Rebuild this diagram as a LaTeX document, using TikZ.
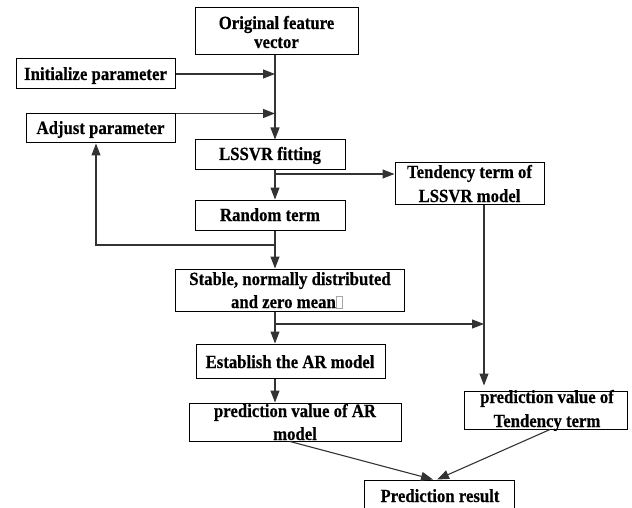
\documentclass[tikz,border=0pt]{standalone}
\usepackage{fontspec}
\setmainfont{Liberation Serif}[BoldFeatures={FakeStretch=0.9,FakeBold=0.5}]
\usetikzlibrary{arrows.meta}
\newcommand\missbox{{\color{gray!70}\fboxsep=0pt\fboxrule=0.6pt\fbox{\rule{0pt}{11pt}\hspace{6pt}}}}
\begin{document}
\begin{tikzpicture}[x=1pt,y=-1pt,
  box/.style={draw=black,line width=1pt,inner sep=0pt,minimum width=#1},
  txt/.style={anchor=base,inner sep=0pt,font=\fontsize{18.6}{20}\selectfont\bfseries},
  arr/.style={draw=black!80,line width=1.1pt,-{Triangle[length=12pt,width=9pt]}}]
\useasboundingbox (0,0) rectangle (632,508);
% boxes
\node[box=163pt,minimum height=47pt] (orig) at (276.5,31.5) {};
\node[box=159pt,minimum height=30pt] (init) at (95.5,74) {};
\node[box=149pt,minimum height=29pt] (adjust) at (100.5,128.5) {};
\node[box=150pt,minimum height=30pt] (lssvr) at (270,155) {};
\node[box=149pt,minimum height=41pt] (tend) at (469.5,183.5) {};
\node[box=150pt,minimum height=30pt] (random) at (270,215) {};
\node[box=229pt,minimum height=42pt] (stable) at (289.5,290) {};
\node[box=189pt,minimum height=34pt] (estab) at (290.5,361) {};
\node[box=212pt,minimum height=38pt] (predar) at (295,422) {};
\node[box=163pt,minimum height=38pt] (predt) at (545.5,410) {};
\node[box=150pt,minimum height=32pt] (result) at (439,496) {};
% texts
\node[txt] (orig-t1) at (276.5,29) {Original feature};
\node[txt] (orig-t2) at (276.5,48) {vector};
\node[txt] (init-t) at (95.5,80) {Initialize parameter};
\node[txt] (adjust-t) at (100.5,134) {Adjust parameter};
\node[txt] (lssvr-t) at (270,160) {LSSVR fitting};
\node[txt] (tend-t1) at (469.5,178) {Tendency term of};
\node[txt] (tend-t2) at (469.5,202) {LSSVR model};
\node[txt] (random-t) at (270,221) {Random term};
\node[txt] (stable-t1) at (290,285) {Stable, normally distributed};
\node[txt] (stable-t2) at (287,308) {and zero mean\missbox};
\node[txt] (estab-t) at (290,368) {Establish the AR model};
\node[txt] (predar-t1) at (295,417) {prediction value of AR};
\node[txt] (predar-t2) at (295,440) {model};
\node[txt] (predt-t1) at (547,403) {prediction value of};
\node[txt] (predt-t2) at (547,427) {Tendency term};
\node[txt] (result-t) at (440,502) {Prediction result};
% helper coordinates
\coordinate (spine) at (275,0);
\coordinate (tx) at (484,0);
\coordinate (b1) at (275,174);
\coordinate (b2) at (275,245);
\coordinate (fb) at (96,245);
\coordinate (b3) at (275,324);
% connectors
\draw[arr] (orig.south -| spine) -- (lssvr.north -| spine);
\draw[arr] (init.east) -- (init.east -| spine);
\draw[arr] (adjust.north east) -- (adjust.north -| spine);
\draw[arr] (lssvr.south -| spine) -- (random.north -| spine);
\draw[arr] (b1) -- (b1 -| tend.west);
\draw[arr] (random.south -| spine) -- (stable.north -| spine);
\draw[arr] (b2) -- (fb) -- (fb |- adjust.south);
\draw[arr] (stable.south -| spine) -- (estab.north -| spine);
\draw[arr] (b3) -- (b3 -| tx);
\draw[arr] (tend.south -| tx) -- ([yshift=5pt]predt.north -| tx);
\draw[arr] (estab.south -| spine) -- (predar.north -| spine);
\draw[arr] ([xshift=-5pt]predar.south) -- ([xshift=-6pt]result.north);
\draw[arr] ([xshift=4.5pt]predt.south) -- ([xshift=-2pt]result.north);
\end{tikzpicture}
\end{document}
